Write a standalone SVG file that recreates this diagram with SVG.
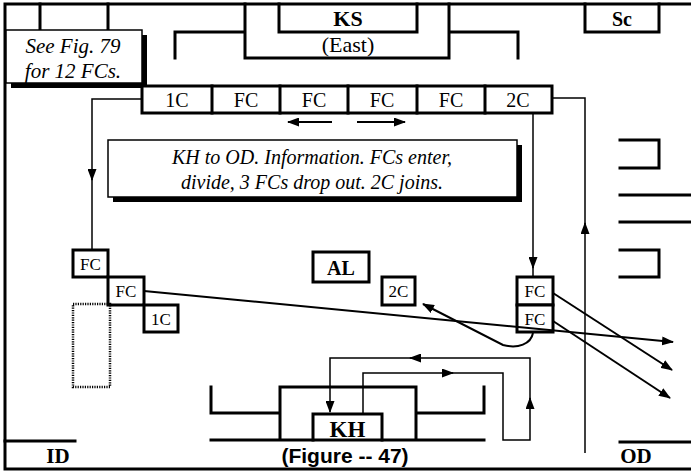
<svg xmlns="http://www.w3.org/2000/svg" width="691" height="471" viewBox="0 0 691 471">
<style>
.thk{fill:none;stroke:#000;stroke-width:3;stroke-linecap:square}
.box{fill:#fff;stroke:#000;stroke-width:3}
.con{fill:none;stroke:#000;stroke-width:1.5}
.arr{fill:none;stroke:#000;stroke-width:2}
.t{font-family:"Liberation Serif","Times New Roman",serif;fill:#000;text-anchor:middle}
.b{font-weight:bold}
.i{font-style:italic}
.sans{font-family:"Liberation Sans",Arial,sans-serif;font-weight:bold;fill:#000;text-anchor:middle}
</style>
<defs>
<marker id="ah" markerUnits="userSpaceOnUse" markerWidth="12" markerHeight="9" refX="11" refY="4.5" orient="auto">
<path d="M0,0 L12,4.5 L0,9 z" fill="#000"/>
</marker>
</defs>
<rect width="691" height="471" fill="#fff"/>
<g id="frame">
<path class="thk" d="M5,4 H691 M5,4 V469 M5,469 H691"/>
<path class="thk" d="M40,4 V30 M108,4 V30"/>
<path class="thk" d="M5,441 H75 M620,442 H691"/>
<path class="thk" d="M620,140 H659 V168 H620 M620,195 H691 M620,222 H691 M620,250 H659 V277 H620"/>
</g>
<g id="ks">
<path class="thk" d="M279,4 V32 H417 V4 M245,4 V58 H449 V4 M175,58 V32 H245 M449,32 H518 V58"/>
<text class="t b" x="348" y="26" font-size="22">KS</text>
<text class="t" x="348" y="52" font-size="22">(East)</text>
</g>
<g id="sc">
<path class="thk" d="M585,4 V32 H659 V4"/>
<text class="t b" x="622" y="26" font-size="20">Sc</text>
</g>
<g id="note">
<rect x="11" y="35" width="136" height="53" fill="#000"/>
<rect x="6" y="30" width="136" height="53" fill="#fff" stroke="#000" stroke-width="1.5"/>
<text class="t i" x="73" y="53" font-size="21">See Fig. 79</text>
<text class="t i" x="73" y="78" font-size="21">for 12 FCs.</text>
</g>
<g id="row">
<rect class="box" x="142" y="86" width="410" height="27"/>
<path class="thk" d="M212,86 V113 M280,86 V113 M348,86 V113 M417,86 V113 M485,86 V113"/>
<g class="t" font-size="20">
<text x="177" y="107">1C</text>
<text x="246" y="107">FC</text>
<text x="314" y="107">FC</text>
<text x="382" y="107">FC</text>
<text x="451" y="107">FC</text>
<text x="518" y="107">2C</text>
</g>
</g>
<g id="info">
<rect x="113" y="145" width="409" height="57" fill="#000"/>
<rect x="108" y="140" width="409" height="57" fill="#fff" stroke="#000" stroke-width="1.5"/>
<text class="t i" x="312" y="164" font-size="20">KH to OD. Information. FCs enter,</text>
<text class="t i" x="312" y="189" font-size="20">divide, 3 FCs drop out. 2C joins.</text>
</g>
<g id="al">
<rect class="box" x="313" y="252" width="56" height="30"/>
<text class="t b" x="341" y="275" font-size="20">AL</text>
</g>
<g id="fc-left-1">
<rect class="box" x="73" y="250" width="35" height="27"/>
<text class="t" x="90.5" y="270" font-size="17">FC</text>
</g>
<g id="fc-left-2">
<rect class="box" x="108" y="277" width="36" height="28"/>
<text class="t" x="126" y="297" font-size="17">FC</text>
</g>
<g id="c1-left">
<rect class="box" x="144" y="305" width="34" height="27"/>
<text class="t" x="161" y="325" font-size="17">1C</text>
</g>
<g id="dotted">
<rect x="73" y="304" width="37" height="83" fill="none" stroke="#000" stroke-width="2.5" stroke-dasharray="1.2,1.2"/>
</g>
<g id="c2-mid">
<rect class="box" x="382" y="277" width="33" height="28"/>
<text class="t" x="398.5" y="297" font-size="17">2C</text>
</g>
<g id="fc-right-1">
<rect class="box" x="517" y="277" width="36" height="28"/>
<text class="t" x="535" y="297" font-size="17">FC</text>
</g>
<g id="fc-right-2">
<rect class="box" x="517" y="305" width="36" height="27"/>
<text class="t" x="535" y="325" font-size="17">FC</text>
</g>
<g id="kh">
<path class="thk" d="M211,387 V413 H280 M280,440 V387 H416 V440 M416,413 H484 V387 M211,440 H484"/>
<path class="thk" d="M313,440 V414 H382 V440"/>
<text class="t b" x="347.5" y="437" font-size="23">KH</text>
</g>
<g id="labels">
<text class="t b" x="58" y="463" font-size="21">ID</text>
<text class="t b" x="636" y="463" font-size="21">OD</text>
<text class="sans" x="345" y="463" font-size="21">(Figure -- 47)</text>
</g>
<g id="connectors">
<path class="con" d="M142,99 H92 V180" marker-end="url(#ah)"/>
<path class="con" d="M92,178 V250"/>
<path class="con" d="M533,113 V268" marker-end="url(#ah)"/>
<path class="con" d="M533,266 V277"/>
<path class="con" d="M552,98 H585 V226"/>
<path class="con" d="M585,453 V223" marker-end="url(#ah)"/>
<path class="arr" d="M332,122 H288" marker-end="url(#ah)"/>
<path class="arr" d="M357,122 H405" marker-end="url(#ah)"/>
<path class="arr" d="M144,291 L673,342" marker-end="url(#ah)"/>
<path class="arr" d="M553,293 L672,370" marker-end="url(#ah)"/>
<path class="arr" d="M553,321 L670,398" marker-end="url(#ah)"/>
<path class="arr" d="M533,333 C531,344 518,349 503,345 L423,304" marker-end="url(#ah)"/>
<path class="con" d="M363,414 V373 H453" marker-end="url(#ah)"/>
<path class="con" d="M451,373 H503 V440 H530 V398" marker-end="url(#ah)"/>
<path class="con" d="M530,400 V358 H410" marker-end="url(#ah)"/>
<path class="con" d="M412,358 H330 V412" marker-end="url(#ah)"/>
</g>
</svg>
